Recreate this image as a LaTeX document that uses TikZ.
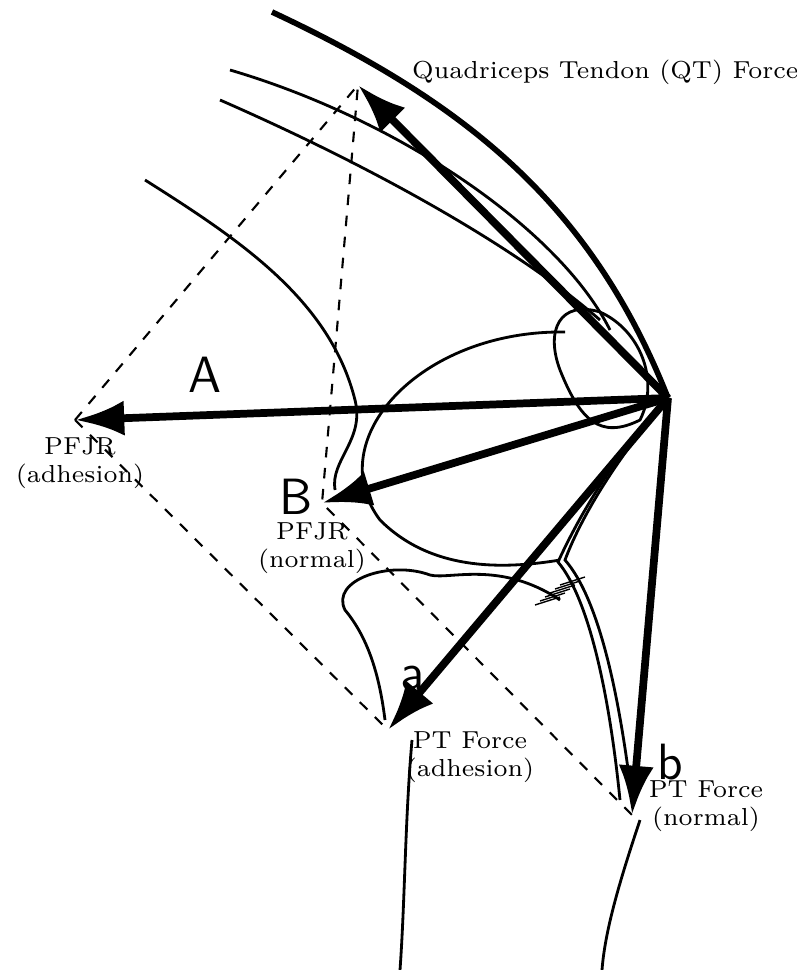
\documentclass[tikz,border=0pt]{standalone}
\usepackage{tikz}
\usetikzlibrary{calc,arrows.meta}
\tikzset{
  force/.style={line width=2.2pt,-{Latex[length=14pt,width=10pt]}},
  comp/.style={dashed,line width=0.6pt},
  bone/.style={line width=0.8pt},
  lbl/.style={font=\fontsize{7}{8}\selectfont,align=center,inner sep=1pt},
  big/.style={font=\sffamily\fontsize{14.5}{15}\selectfont,inner sep=1pt}
}
\begin{document}
\begin{tikzpicture}[x=0.01cm,y=-0.01cm]
  \useasboundingbox (0,0) rectangle (796,970);
  % femur and patella outlines
  \draw[line width=1.6pt] (272,12) .. controls (460,100) and (590,200) .. (668,398);
  \draw[bone] (230,70) .. controls (400,120) and (560,230) .. (610,330);
  \draw[bone] (220,100) .. controls (380,170) and (520,250) .. (600,320);
  \draw[bone] (145,180) .. controls (240,240) and (330,300) .. (355,400)
     .. controls (365,440) and (330,460) .. (335,490);
  \draw[bone] (600,312) .. controls (560,300) and (545,330) .. (560,370)
     .. controls (580,420) and (600,440) .. (640,420)
     .. controls (660,380) and (640,330) .. (600,312);
  \draw[bone] (565,332) .. controls (420,330) and (320,440) .. (380,520)
     .. controls (430,570) and (500,570) .. (560,560);
  % tibia
  \draw[bone] (560,600) .. controls (500,560) and (450,580) .. (430,575)
     .. controls (390,560) and (330,580) .. (345,610)
     .. controls (370,640) and (380,680) .. (385,720);
  \draw[bone] (412,740) .. controls (405,820) and (405,900) .. (400,970);
  \draw[bone] (640,820) .. controls (620,880) and (605,930) .. (602,970);
  % patellar tendon
  \draw[bone] (650,420) .. controls (610,470) and (580,520) .. (565,560)
     .. controls (600,600) and (620,700) .. (632,800);
  \draw[bone] (640,430) .. controls (600,480) and (575,525) .. (558,562)
     .. controls (590,600) and (610,700) .. (620,800);
  \foreach \k in {0,1,2,3,4,5} {\draw (560-\k*5,585+\k*4) -- ++(25,-8);}
  % construction lines
  \coordinate (O) at (668,398);
  \coordinate (QT) at (358,85);
  \coordinate (A) at (75,420);
  \coordinate (B) at (322,503);
  \coordinate (a) at (388,730);
  \coordinate (b) at (632,815);
  \draw[comp] (A) -- (QT) -- (B) -- (b);
  \draw[comp] (A) -- (a);
  % forces
  \draw[force] (O) -- (QT);
  \draw[force] (O) -- (A);
  \draw[force] (O) -- (B);
  \draw[force] (O) -- (a);
  \draw[force] (O) -- (b);
  % labels
  \node[lbl,anchor=west] (qtl) at (408,72) {Quadriceps Tendon (QT) Force};
  \node[big] (Al) at (205,375) {A};
  \node[big] (Bl) at (296,497) {B};
  \node[big] (al) at (412,678) {a};
  \node[big] (bl) at (670,762) {b};
  \node[lbl] (pfa) at (80,463) {PFJR\\(adhesion)};
  \node[lbl] (pfn) at (312,548) {PFJR\\(normal)};
  \node[lbl] (pta) at (470,757) {PT Force\\(adhesion)};
  \node[lbl] (ptn) at (706,806) {PT Force\\(normal)};
\end{tikzpicture}
\end{document}
